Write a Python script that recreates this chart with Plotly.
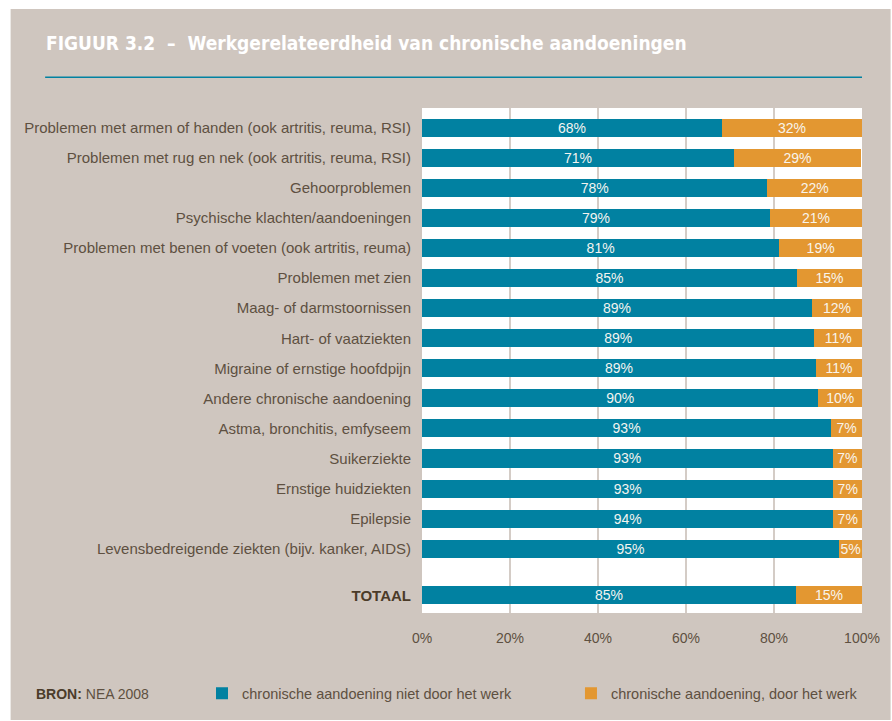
import plotly.graph_objects as go

CATEGORIES = [
    "Problemen met armen of handen (ook artritis, reuma, RSI)",
    "Problemen met rug en nek (ook artritis, reuma, RSI)",
    "Gehoorproblemen",
    "Psychische klachten/aandoeningen",
    "Problemen met benen of voeten (ook artritis, reuma)",
    "Problemen met zien",
    "Maag- of darmstoornissen",
    "Hart- of vaatziekten",
    "Migraine of ernstige hoofdpijn",
    "Andere chronische aandoening",
    "Astma, bronchitis, emfyseem",
    "Suikerziekte",
    "Ernstige huidziekten",
    "Epilepsie",
    "Levensbedreigende ziekten (bijv. kanker, AIDS)",
    "TOTAAL",
]
NIET_WERK = [68.2, 70.9, 78.5, 79.1, 81.2, 85.2, 88.6, 89.2, 89.5, 90.1, 93.0, 93.3, 93.5, 93.5, 94.8, 85.0]
DOOR_WERK = [31.8, 28.9, 21.5, 20.9, 18.8, 14.8, 11.4, 10.8, 10.5, 9.9, 7.0, 6.7, 6.5, 6.5, 5.2, 15.0]
NIET_WERK_LABELS = ["68%", "71%", "78%", "79%", "81%", "85%", "89%", "89%", "89%", "90%",
                    "93%", "93%", "93%", "94%", "95%", "85%"]
DOOR_WERK_LABELS = ["32%", "29%", "22%", "21%", "19%", "15%", "12%", "11%", "11%", "10%",
                    "7%", "7%", "7%", "7%", "5%", "15%"]
X_TICKS = [0, 20, 40, 60, 80, 100]
X_TICK_LABELS = ["0%", "20%", "40%", "60%", "80%", "100%"]

TEAL = "#0181a1"
ORANGE = "#e39731"
BEIGE = "#cfc6bf"
TEXT = "#5e5041"
DARK = "#4b3b29"
FONT = "Liberation Sans"

W, H = 892, 721
L, R, T, B = 422, 868, 108, 618  # plot area in pixels


def px(x):
    return (x - L) / (R - L)


def py(y):
    return (B - y) / (B - T)


# rows evenly spaced, extra gap before the total row
y_pos = list(range(len(CATEGORIES) - 1)) + [15.55]
tick_text = CATEGORIES[:-1] + [f"<b><span style='color:{DARK}'>{CATEGORIES[-1]}</span></b>"]

fig = go.Figure()
fig.add_trace(
    go.Bar(
        y=y_pos, x=NIET_WERK, orientation="h", width=0.6,
        name="chronische aandoening niet door het werk", legend="legend",
        marker_color=TEAL, marker_line_width=0,
        text=NIET_WERK_LABELS, textposition="inside", insidetextanchor="middle",
        textangle=0, textfont={"color": "#f4f4f0", "size": 14, "family": FONT},
    )
)
fig.add_trace(
    go.Bar(
        y=y_pos, x=DOOR_WERK, orientation="h", width=0.6,
        name="chronische aandoening, door het werk", legend="legend2",
        marker_color=ORANGE, marker_line_width=0,
        text=DOOR_WERK_LABELS, textposition="inside", insidetextanchor="middle",
        textangle=0, textfont={"color": "#f8f4ec", "size": 14, "family": FONT},
    )
)

legend_style = {
    "orientation": "h", "xanchor": "left", "yanchor": "middle",
    "bgcolor": "rgba(0,0,0,0)", "font": {"size": 14.5, "color": TEXT},
}
fig.update_layout(
    width=W, height=H,
    margin={"l": L, "r": W - R, "t": T, "b": H - B, "pad": 0},
    barmode="stack",
    paper_bgcolor="white",
    plot_bgcolor="white",
    font={"family": FONT, "color": TEXT, "size": 14},
    uniformtext={"minsize": 12, "mode": "show"},
    showlegend=True,
    legend={**legend_style, "x": px(199), "y": py(699)},
    legend2={**legend_style, "x": px(573), "y": py(699)},
)
fig.update_xaxes(
    range=[0, 100], tickvals=X_TICKS, ticktext=X_TICK_LABELS,
    showgrid=True, gridcolor="#d4ccc6", gridwidth=2, zeroline=False,
    ticks="", ticklabelstandoff=15, tickfont={"size": 14, "color": TEXT},
    fixedrange=True,
)
fig.update_yaxes(
    range=[16.14, -0.66], tickvals=y_pos, ticktext=tick_text,
    showgrid=False, zeroline=False, ticks="", ticklabelstandoff=10,
    tickfont={"size": 15, "color": TEXT}, fixedrange=True,
)

# beige card behind everything, white strip at top and left
fig.add_shape(type="rect", xref="paper", yref="paper", layer="below",
              x0=px(5), x1=px(W + 5), y0=py(8), y1=py(H + 5),
              fillcolor=BEIGE, line_width=0)
fig.add_shape(type="rect", xref="paper", yref="paper", layer="below",
              x0=0, x1=1, y0=0, y1=1, fillcolor="white", line_width=0)
# line under the title
fig.add_shape(type="line", xref="paper", yref="paper",
              x0=px(40), x1=px(868), y0=py(77), y1=py(77),
              line={"color": TEAL, "width": 1.5})

fig.add_annotation(
    xref="paper", yref="paper", x=px(39), y=py(42), xanchor="left", yanchor="middle",
    text="<b>FIGUUR 3.2  –  Werkgerelateerdheid van chronische aandoeningen</b>",
    showarrow=False, font={"family": "DejaVu Sans Condensed, Liberation Sans", "size": 19, "color": "white"},
)
fig.add_annotation(
    xref="paper", yref="paper", x=px(29), y=py(700), xanchor="left", yanchor="middle",
    text=f"<b><span style='color:{DARK}'>BRON:</span></b> NEA 2008",
    showarrow=False, font={"size": 14, "color": TEXT},
)

fig.write_html(
    "out.html",
    config={"displayModeBar": False},
    post_script=(
        "document.documentElement.style.margin='0';"
        "document.body.style.margin='0';"
        "document.documentElement.style.overflow='hidden';"
        "document.body.style.overflow='hidden';"
    ),
)
